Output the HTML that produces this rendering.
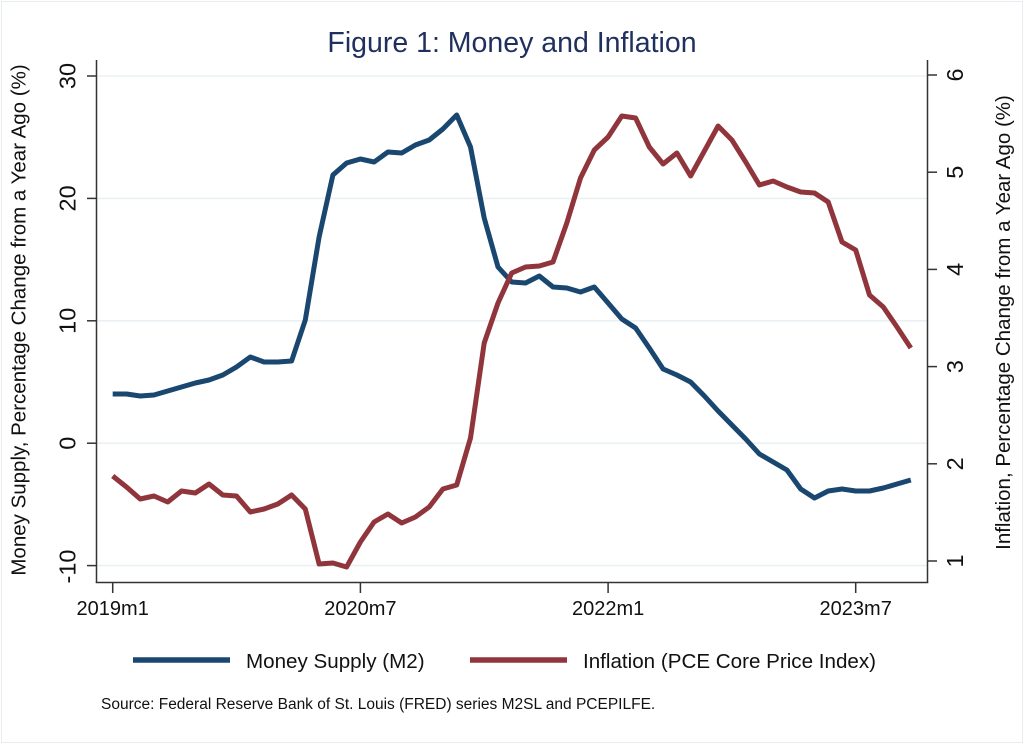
<!DOCTYPE html>
<html>
<head>
<meta charset="utf-8">
<style>
html,body{margin:0;padding:0;background:#fff;}
svg{display:block;}
text{font-family:"Liberation Sans",Arial,Helvetica,sans-serif;}
</style>
</head>
<body>
<svg width="1024" height="744" viewBox="0 0 1024 744" xmlns="http://www.w3.org/2000/svg">
<rect x="0" y="0" width="1024" height="744" fill="#ffffff"/>
<rect x="1.5" y="1.5" width="1021" height="741" fill="none" stroke="#e6ecf0" stroke-width="1"/>

<!-- title -->
<text x="512" y="52" font-size="28.5" fill="#1f305e" text-anchor="middle">Figure 1: Money and Inflation</text>

<!-- gridlines -->
<g stroke="#eaf1f4" stroke-width="1.6">
<line x1="97" y1="76" x2="927" y2="76"/>
<line x1="97" y1="198.4" x2="927" y2="198.4"/>
<line x1="97" y1="320.8" x2="927" y2="320.8"/>
<line x1="97" y1="443.2" x2="927" y2="443.2"/>
<line x1="97" y1="565.6" x2="927" y2="565.6"/>
</g>

<!-- axes -->
<g stroke="#333" stroke-width="1.5" fill="none">
<line x1="96.5" y1="60" x2="96.5" y2="583"/>
<line x1="927.5" y1="60" x2="927.5" y2="583"/>
<line x1="95.8" y1="582.5" x2="928.2" y2="582.5"/>
<!-- left ticks -->
<line x1="87" y1="76" x2="96.5" y2="76"/>
<line x1="87" y1="198.4" x2="96.5" y2="198.4"/>
<line x1="87" y1="320.8" x2="96.5" y2="320.8"/>
<line x1="87" y1="443.2" x2="96.5" y2="443.2"/>
<line x1="87" y1="565.6" x2="96.5" y2="565.6"/>
<!-- right ticks -->
<line x1="927.5" y1="75" x2="937" y2="75"/>
<line x1="927.5" y1="172.2" x2="937" y2="172.2"/>
<line x1="927.5" y1="269.4" x2="937" y2="269.4"/>
<line x1="927.5" y1="366.6" x2="937" y2="366.6"/>
<line x1="927.5" y1="463.8" x2="937" y2="463.8"/>
<line x1="927.5" y1="561" x2="937" y2="561"/>
<!-- bottom ticks -->
<line x1="112.7" y1="582.5" x2="112.7" y2="593"/>
<line x1="360.4" y1="582.5" x2="360.4" y2="593"/>
<line x1="608.1" y1="582.5" x2="608.1" y2="593"/>
<line x1="855.7" y1="582.5" x2="855.7" y2="593"/>
</g>

<!-- left tick labels -->
<g font-size="23.5" fill="#111" text-anchor="middle">
<text transform="translate(75.5,76) rotate(-90)">30</text>
<text transform="translate(75.5,198.4) rotate(-90)">20</text>
<text transform="translate(75.5,320.8) rotate(-90)">10</text>
<text transform="translate(75.5,443.2) rotate(-90)">0</text>
<text transform="translate(75.5,566.5) rotate(-90)">-10</text>
</g>
<!-- right tick labels -->
<g font-size="23.5" fill="#111" text-anchor="middle">
<text transform="translate(963,75) rotate(-90)">6</text>
<text transform="translate(963,172.2) rotate(-90)">5</text>
<text transform="translate(963,269.4) rotate(-90)">4</text>
<text transform="translate(963,366.6) rotate(-90)">3</text>
<text transform="translate(963,463.8) rotate(-90)">2</text>
<text transform="translate(963,561) rotate(-90)">1</text>
</g>
<!-- x tick labels -->
<g font-size="20" fill="#111" text-anchor="middle">
<text x="112.7" y="615">2019m1</text>
<text x="360.4" y="615">2020m7</text>
<text x="608.1" y="615">2022m1</text>
<text x="855.7" y="615">2023m7</text>
</g>

<!-- axis titles -->
<text transform="translate(25.5,320) rotate(-90)" font-size="20.5" fill="#111" text-anchor="middle">Money Supply, Percentage Change from a Year Ago (%)</text>
<text transform="translate(1010,322.5) rotate(-90)" font-size="20.5" fill="#111" text-anchor="middle">Inflation, Percentage Change from a Year Ago (%)</text>

<!-- Money supply (blue) -->
<polyline fill="none" stroke="#1a476f" stroke-width="5" stroke-linejoin="round" stroke-linecap="butt" points="
112.7,394 126.5,394 140.2,396 154.0,395 167.7,391 181.5,387 195.3,383 209.0,380 222.8,375 236.5,367
250.3,357 264.1,362 277.8,362 291.6,361 305.3,320 319.1,237 332.9,175 346.6,163 360.4,159 374.1,162
387.9,152 401.7,153 415.4,145 429.2,140 442.9,129 456.7,115 470.5,147 484.2,218 498.0,267 511.7,282
525.5,283 539.3,276 553.0,287 566.8,288 580.5,292 594.3,287 608.1,303 621.8,319 635.6,328 649.3,348
663.1,369 676.9,375 690.6,382 704.4,396 718.1,411 731.9,425 745.7,439 759.4,454 773.2,462 786.9,470
800.7,489 814.5,498 828.2,491 842.0,489 855.7,491 869.5,491 883.3,488 897.0,484 910.8,480"/>

<!-- Inflation (red) -->
<polyline fill="none" stroke="#90353b" stroke-width="5" stroke-linejoin="round" stroke-linecap="butt" points="
112.7,476 126.5,487 140.2,499 154.0,496 167.7,502 181.5,491 195.3,493 209.0,484 222.8,495 236.5,496
250.3,512 264.1,509 277.8,504 291.6,495 305.3,509 319.1,564 332.9,563 346.6,567 360.4,542 374.1,522
387.9,514 401.7,523 415.4,517 429.2,507 442.9,489 456.7,485 470.5,438 484.2,343 498.0,303 511.7,273
525.5,267 539.3,266 553.0,262 566.8,223 580.5,178 594.3,150 608.1,137 621.8,116 635.6,118 649.3,147
663.1,164 676.9,153 690.6,176 704.4,151 718.1,126 731.9,140 745.7,162 759.4,185 773.2,181 786.9,187
800.7,192 814.5,193 828.2,202 842.0,242 855.7,250 869.5,295 883.3,307 897.0,327 910.8,348"/>

<!-- legend -->
<line x1="133" y1="660" x2="230" y2="660" stroke="#1a476f" stroke-width="5.5"/>
<text x="246" y="668" font-size="20.6" fill="#111">Money Supply (M2)</text>
<line x1="470" y1="660" x2="567" y2="660" stroke="#90353b" stroke-width="5.5"/>
<text x="583" y="668" font-size="20.6" fill="#111">Inflation (PCE Core Price Index)</text>

<!-- source -->
<text x="101" y="709" font-size="15.5" fill="#111">Source: Federal Reserve Bank of St. Louis (FRED) series M2SL and PCEPILFE.</text>
</svg>
</body>
</html>
